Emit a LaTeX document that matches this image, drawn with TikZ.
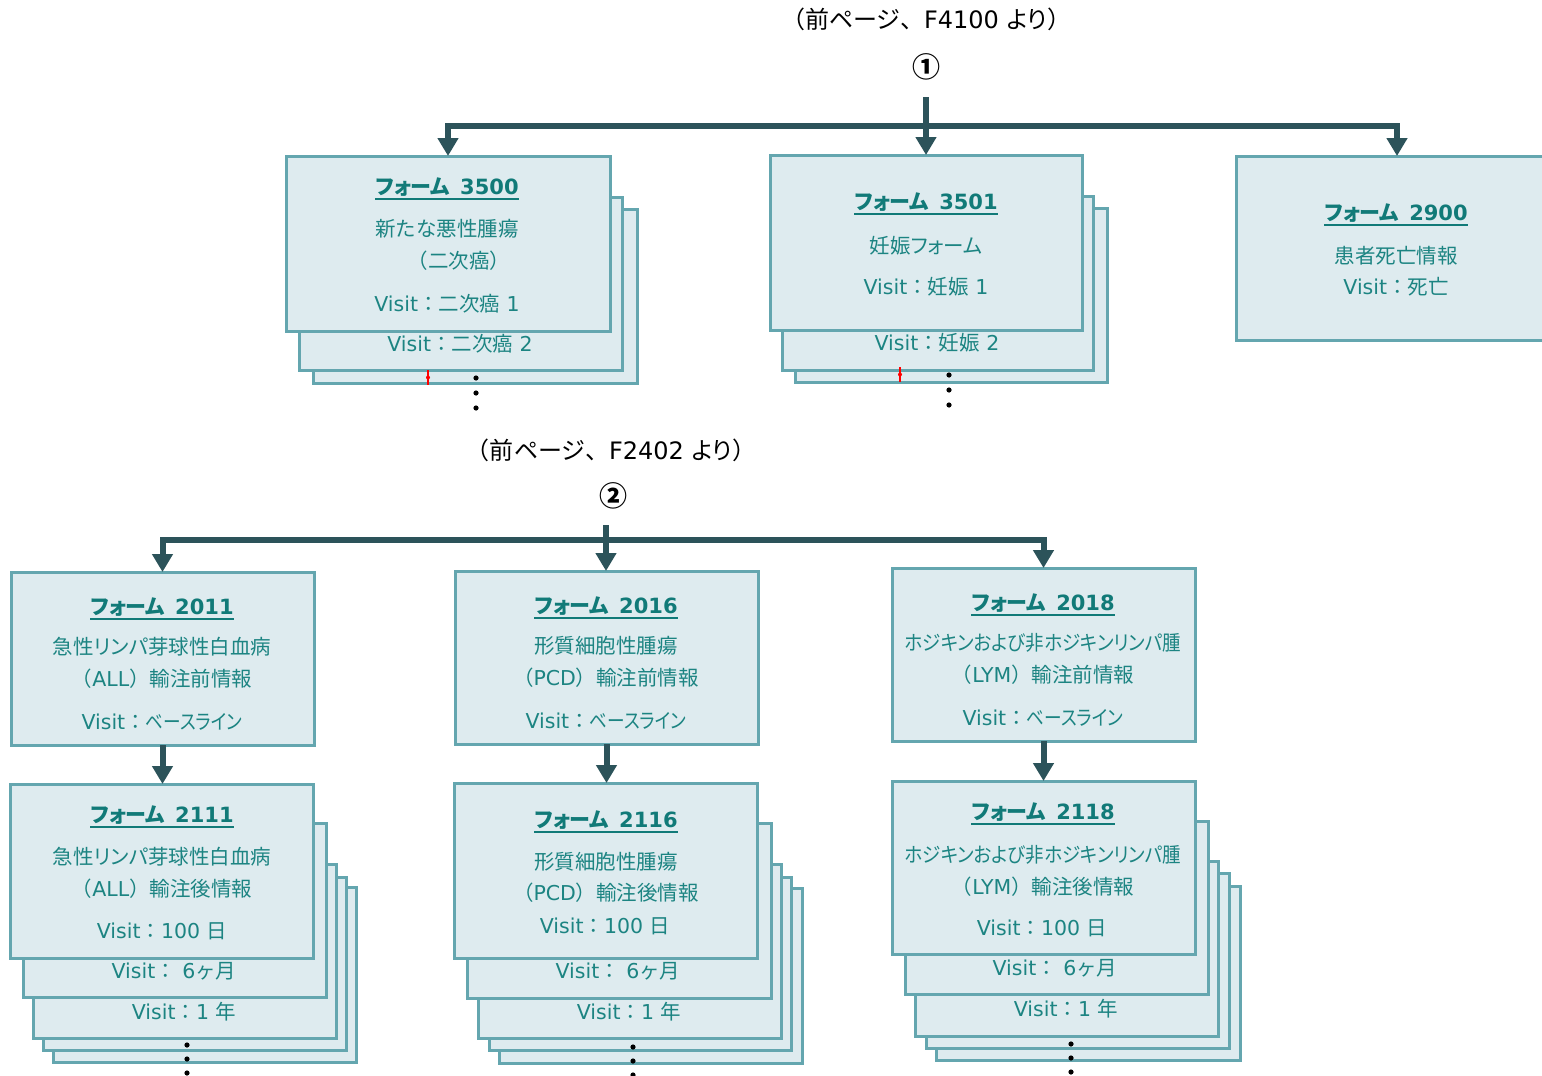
\documentclass[tikz,border=0pt]{standalone}
\usepackage{fontspec}
\usepackage{graphicx}
\setmainfont{DejaVu Sans}
\newfontfamily\cjk{Noto Sans CJK JP}
\newfontfamily\cjkp[RawFeature=+palt]{Noto Sans CJK JP}
\usetikzlibrary{arrows.meta}
\definecolor{cardfill}{HTML}{DEEBEF}
\definecolor{cardline}{HTML}{64A6AF}
\definecolor{flowc}{HTML}{2C535A}
\definecolor{ttlc}{HTML}{117A78}
\definecolor{bodyc}{HTML}{1C8482}
\newcommand\cardbox[5]{%
  \pgfmathsetmacro\cbW{#4-#2}\pgfmathsetmacro\cbH{#5-#3}%
  \pgfmathsetmacro\cbX{(#2+#4)/2}\pgfmathsetmacro\cbY{(#3+#5)/2}%
  \node[card,minimum width=\cbW pt,minimum height=\cbH pt] (#1) at (\cbX,\cbY) {};}
\newcommand\formtitle[3]{%
  \node[ttl] (#1) at #2 {{\cjkp フォーム}\hspace{10pt}#3};
  \draw[ul] (#1.south west) -- (#1.south east);}
\newcommand\stackdots[4]{%
  \fill (#1,#2) circle (2.6pt); \fill (#1,#3) circle (2.6pt); \fill (#1,#4) circle (2.6pt);}
\newcommand\redmark[3]{%
  \draw[red, line width=1.3pt] (#1,#2) -- (#1,#3);
  \fill[red] (#1,{(#2+#3)/2}) circle (2pt);}
\newcommand\baseline{\scalebox{0.86}[1]{\cjkp ベースライン}}
\newcommand\hodgkin{\scalebox{0.905}[1]{{\cjkp ホジキンおよび}{\cjk 非}{\cjkp ホジキンリンパ}{\cjk 腫}}}
\begin{document}
\begin{tikzpicture}[x=1pt,y=-1pt,
  card/.style={draw=cardline, fill=cardfill, line width=3pt, inner sep=0pt, outer sep=0pt},
  lbl/.style={inner sep=0pt, text=bodyc, font=\fontsize{20.5}{24}\selectfont, text height=16pt, text depth=2pt},
  ttl/.style={inner sep=0pt, text=ttlc, font=\fontsize{21}{24}\selectfont\bfseries, text height=19pt, text depth=5pt},
  ul/.style={draw=ttlc, line width=1.6pt},
  flow/.style={draw=flowc, line width=6pt, line join=miter, -{Triangle[width=20pt,length=18pt]}},
  note/.style={inner sep=0pt, font=\fontsize{24}{27}\selectfont, text height=19pt, text depth=3pt},
  circ/.style={inner sep=0pt, font=\fontsize{28}{30}\selectfont\bfseries, text height=21pt, text depth=3pt},
]
\useasboundingbox (0,0) rectangle (1542,1076);
\fill[white] (0,0) rectangle (1542,1076);

% ---------- top section ----------
\node[note] (n1) at (926,20) {{\cjk （}{\cjkp 前ページ}{\cjk 、}F4100 {\cjkp より}{\cjk ）}};
\node[circ] (c1) at (926,68) {{\cjk ①}};

% form 3500 stack
\cardbox{b3500b}{313}{209}{637}{383}
\cardbox{b3500a}{299}{197}{622}{370}
\node[lbl] (v3500b) at (460,344) {Visit{\cjk ：二次癌} 2};
\cardbox{b3500}{286}{156}{610}{331}
\formtitle{t3500}{(447,187)}{3500}
\node[lbl] (d3500a) at (447,229) {{\cjk 新たな悪性腫瘍}};
\node[lbl] (d3500b) at (459,261) {{\cjk （二次癌）}};
\node[lbl] (v3500a) at (447,304) {Visit{\cjk ：二次癌} 1};
\redmark{428}{370}{385}
\stackdots{476}{378}{393}{408}

% form 3501 stack
\cardbox{b3501b}{795}{208}{1107}{382}
\cardbox{b3501a}{782}{196}{1093}{370}
\node[lbl] (v3501b) at (937,343) {Visit{\cjk ：妊娠} 2};
\cardbox{b3501}{770}{155}{1082}{330}
\formtitle{t3501}{(926,202)}{3501}
\node[lbl] (d3501a) at (926,246) {{\cjk 妊娠}{\cjkp フォーム}};
\node[lbl] (v3501a) at (926,287) {Visit{\cjk ：妊娠} 1};
\redmark{900}{367}{382}
\stackdots{949}{375}{390}{405}

% form 2900
\cardbox{b2900}{1236}{156}{1558}{340}
\formtitle{t2900}{(1396,213)}{2900}
\node[lbl] (d2900a) at (1396,256) {{\cjk 患者死亡情報}};
\node[lbl] (v2900a) at (1396,287) {Visit{\cjk ：死亡}};

% top connectors
\coordinate (s1) at (926,97);
\coordinate (j1) at (926,126);
\draw[flow] (s1) -- (s1 |- b3501.north);
\draw[flow] (j1) -| (b3500.north);
\draw[flow] (j1) -| (b2900.north);

% ---------- bottom section ----------
\node[note] (n2) at (611,451) {{\cjk （}{\cjkp 前ページ}{\cjk 、}F2402 {\cjkp より}{\cjk ）}};
\node[circ] (c2) at (613,497) {{\cjk ②}};

% form 2011
\cardbox{b2011}{11}{572}{314}{745}
\formtitle{t2011}{(162,607)}{2011}
\node[lbl] (d2011a) at (162,647) {{\cjk 急性}{\cjkp リンパ}{\cjk 芽球性白血病}};
\node[lbl] (d2011b) at (162,679) {{\cjk （}ALL{\cjk ）輸注前情報}};
\node[lbl] (v2011a) at (162,722) {Visit{\cjk ：}\baseline};

% form 2016
\cardbox{b2016}{455}{571}{758}{744}
\formtitle{t2016}{(606,606)}{2016}
\node[lbl] (d2016a) at (606,646) {{\cjk 形質細胞性腫瘍}};
\node[lbl] (d2016b) at (606,678) {{\cjk （}PCD{\cjk ）輸注前情報}};
\node[lbl] (v2016a) at (606,721) {Visit{\cjk ：}\baseline};

% form 2018
\cardbox{b2018}{892}{568}{1195}{741}
\formtitle{t2018}{(1043,603)}{2018}
\node[lbl] (d2018a) at (1043,643) {\hodgkin};
\node[lbl] (d2018b) at (1043,675) {{\cjk （}LYM{\cjk ）輸注前情報}};
\node[lbl] (v2018a) at (1043,718) {Visit{\cjk ：}\baseline};

% form 2111 stack
\cardbox{b2111d}{53}{887}{356}{1062}
\cardbox{b2111c}{43}{877}{346}{1050}
\cardbox{b2111b}{33}{864}{336}{1038}
\node[lbl] (v2111c) at (184,1012) {Visit{\cjk ：}1 {\cjk 年}};
\cardbox{b2111a}{23}{823}{326}{997}
\node[lbl] (v2111b) at (174,971) {Visit{\cjk ：} 6{\cjk ヶ月}};
\cardbox{b2111}{10}{784}{313}{958}
\formtitle{t2111}{(162,815)}{2111}
\node[lbl] (d2111a) at (162,857) {{\cjk 急性}{\cjkp リンパ}{\cjk 芽球性白血病}};
\node[lbl] (d2111b) at (162,889) {{\cjk （}ALL{\cjk ）輸注後情報}};
\node[lbl] (v2111a) at (162,931) {Visit{\cjk ：}100 {\cjk 日}};
\stackdots{187}{1045}{1059}{1073}

% form 2116 stack
\cardbox{b2116d}{499}{888}{802}{1063}
\cardbox{b2116c}{489}{877}{791}{1050}
\cardbox{b2116b}{478}{864}{781}{1038}
\node[lbl] (v2116c) at (629,1012) {Visit{\cjk ：}1 {\cjk 年}};
\cardbox{b2116a}{467}{823}{771}{998}
\node[lbl] (v2116b) at (618,971) {Visit{\cjk ：} 6{\cjk ヶ月}};
\cardbox{b2116}{454}{783}{757}{958}
\formtitle{t2116}{(606,820)}{2116}
\node[lbl] (d2116a) at (606,862) {{\cjk 形質細胞性腫瘍}};
\node[lbl] (d2116b) at (606,893) {{\cjk （}PCD{\cjk ）輸注後情報}};
\node[lbl] (v2116a) at (605,926) {Visit{\cjk ：}100 {\cjk 日}};
\stackdots{633}{1047}{1061}{1075}

% form 2118 stack
\cardbox{b2118d}{936}{886}{1240}{1060}
\cardbox{b2118c}{926}{873}{1229}{1048}
\cardbox{b2118b}{915}{861}{1218}{1036}
\node[lbl] (v2118c) at (1066,1009) {Visit{\cjk ：}1 {\cjk 年}};
\cardbox{b2118a}{905}{821}{1208}{994}
\node[lbl] (v2118b) at (1055,968) {Visit{\cjk ：} 6{\cjk ヶ月}};
\cardbox{b2118}{892}{781}{1195}{954}
\formtitle{t2118}{(1043,812)}{2118}
\node[lbl] (d2118a) at (1043,855) {\hodgkin};
\node[lbl] (d2118b) at (1043,887) {{\cjk （}LYM{\cjk ）輸注後情報}};
\node[lbl] (v2118a) at (1042,928) {Visit{\cjk ：}100 {\cjk 日}};
\stackdots{1071}{1044}{1058}{1072}

% bottom connectors
\coordinate (s2) at (606,525);
\coordinate (j2) at (606,540);
\draw[flow] (s2) -- (s2 |- b2016.north);
\draw[flow] (j2) -| (b2011.north);
\draw[flow] (j2) -| (b2018.north);
\draw[flow] (b2011.south) -- (b2011.south |- b2111.north);
\draw[flow] (b2016.south) -- (b2016.south |- b2116.north);
\draw[flow] (b2018.south) -- (b2018.south |- b2118.north);
\end{tikzpicture}
\end{document}
